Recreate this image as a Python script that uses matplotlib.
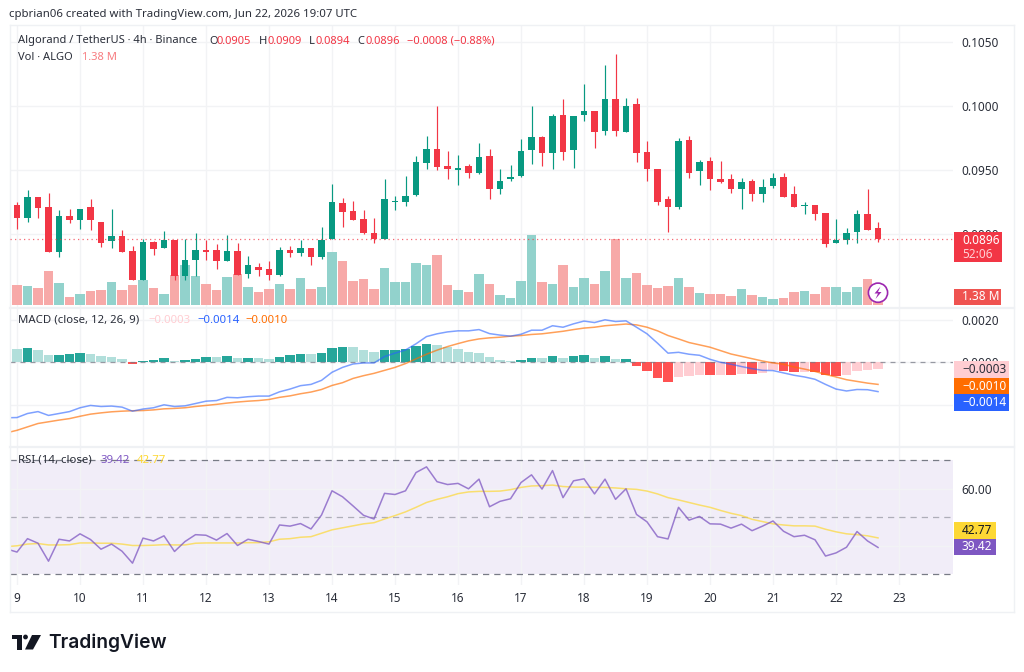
import numpy as np
import matplotlib
matplotlib.use('Agg')
import matplotlib.pyplot as plt
from matplotlib.patches import Rectangle, Circle, Polygon
from matplotlib.lines import Line2D

W, H = 1024, 672
FONT = ['Noto Sans', 'DejaVu Sans']
plt.rcParams['font.family'] = FONT

# 4h candles, prices in 1e-5 USDT
opens = [9227, 9122, 9286, 9208, 8862, 9141, 9107, 9208, 9096, 8948, 8987, 8865, 8638, 8935, 8893, 8951, 8669,
         8794, 8872, 8872, 8792, 8865, 8685, 8742, 8727, 8682, 8872, 8854, 8888, 8823, 8958, 9240, 9177, 9117,
         9010, 8958, 9253, 9253, 9302, 9557, 9661, 9531, 9497, 9531, 9474, 9607, 9352, 9427, 9450, 9656, 9760,
         9635, 9930, 9659, 9927, 9958, 9805, 10052, 9797, 10013, 9638, 9510, 9271, 9214, 9732, 9495, 9570,
         9432, 9432, 9352, 9417, 9312, 9375, 9448, 9310, 9216, 9227, 9164, 8932, 8953, 9016, 9156, 9050]
highs = [9253, 9341, 9286, 9318, 9185, 9195, 9195, 9271, 9096, 9195, 9034, 8904, 8964, 8948, 9026, 8951, 8964,
         9010, 8953, 8919, 8995, 8927, 8826, 8771, 8786, 8896, 8904, 8953, 8888, 9057, 9388, 9279, 9255, 9185,
         9125, 9432, 9294, 9456, 9607, 9768, 10000, 9646, 9615, 9544, 9708, 9661, 9508, 9539, 9740, 9997, 9768,
         9935, 10052, 9922, 10169, 9958, 10315, 10406, 10060, 10060, 9724, 9510, 9297, 9747, 9763, 9578, 9602,
         9570, 9471, 9440, 9432, 9432, 9479, 9479, 9372, 9250, 9227, 9164, 9117, 9049, 9187, 9349, 9090]
lows = [9036, 9096, 9122, 8862, 8823, 9083, 9036, 9029, 8898, 8893, 8862, 8638, 8638, 8839, 8893, 8638, 8638,
        8669, 8799, 8729, 8792, 8682, 8659, 8669, 8638, 8674, 8823, 8831, 8760, 8807, 8958, 9057, 9107, 9000,
        8932, 8958, 9190, 9219, 9297, 9510, 9503, 9432, 9380, 9440, 9471, 9273, 9312, 9417, 9448, 9549, 9534,
        9510, 9581, 9518, 9878, 9667, 9771, 9763, 9794, 9565, 9411, 9229, 9013, 9195, 9440, 9380, 9341,
        9401, 9320, 9198, 9258, 9250, 9359, 9292, 9214, 9156, 9109, 8898, 8930, 8922, 8930, 9029, 8940]
closes = [9122, 9286, 9206, 8862, 9141, 9107, 9195, 9107, 8932, 8987, 8862, 8638, 8935, 8885, 8951, 8669, 8794,
          8872, 8862, 8792, 8865, 8682, 8755, 8721, 8682, 8872, 8854, 8888, 8823, 8956, 9247, 9174, 9107, 9005,
          8958, 9271, 9258, 9294, 9560, 9661, 9526, 9505, 9513, 9474, 9599, 9352, 9417, 9448, 9646, 9760, 9635,
          9922, 9643, 9922, 9958, 9797, 10052, 9805, 9997, 9635, 9510, 9250, 9214, 9724, 9479, 9562, 9427,
          9409, 9352, 9409, 9312, 9370, 9437, 9292, 9214, 9227, 9159, 8924, 8956, 9010, 9156, 9029, 8960]

# volume in millions of ALGO
volumes = [3.39, 3.22, 2.88, 5.92, 3.74, 1.38, 1.84, 2.36, 2.53, 3.91, 2.53, 3.39, 4.26, 2.88, 1.84, 5.12, 6.84,
           4.95, 3.57, 2.53, 4.77, 5.29, 3.05, 2.19, 2.70, 3.57, 2.70, 4.60, 2.70, 3.05, 9.14, 7.59, 4.08, 4.43,
           2.70, 6.44, 3.91, 3.91, 7.25, 6.90, 8.63, 3.39, 2.53, 2.19, 5.41, 3.57, 1.67, 1.21, 4.08, 12.02, 3.91,
           3.57, 6.90, 3.05, 4.60, 3.57, 5.92, 11.33, 4.60, 5.58, 3.39, 2.88, 3.22, 4.72, 3.05, 2.01, 1.84,
           1.84, 1.55, 2.70, 1.67, 1.38, 1.04, 1.21, 2.19, 2.36, 1.84, 3.05, 3.05, 2.19, 3.05, 4.43, 1.38]

# MACD series in 1e-5, first value is the bar before the visible range
macd_hist = [68, 63, 65, 58, 35, 36, 38, 44, 39, 30, 25, 16, -8, 8, 11, 22, 6, 11, 16, 25, 24, 30, 20, 22, 20, 16,
             25, 35, 39, 38, 44, 68, 72, 71, 58, 49, 57, 58, 63, 77, 87, 82, 72, 63, 49, 44, 25, 11, 6, 11, 20, 19,
             30, 20, 30, 35, 20, 30, 16, 17, -17, -41, -72, -91, -68, -65, -58, -60, -58, -60, -54, -55, -49, -38,
             -39, -46, -44, -46, -58, -63, -58, -39, -36, -30]
macd_line = [-261, -260, -241, -232, -250, -241, -232, -214, -203, -208, -206, -211, -230, -220, -214, -200, -208,
             -205, -194, -183, -180, -165, -167, -162, -159, -159, -139, -126, -110, -104, -85, -47, -24, -8, -3,
             -3, 27, 43, 58, 87, 121, 134, 143, 148, 148, 154, 135, 128, 123, 132, 151, 151, 172, 165, 181, 194,
             187, 200, 192, 195, 165, 134, 90, 43, 47, 38, 33, 14, 0, -9, -20, -30, -38, -39, -50, -61, -69, -80,
             -104, -126, -135, -128, -129, -138]
signal_line = [-332, -320, -304, -288, -280, -272, -265, -254, -244, -238, -233, -230, -228, -227, -224, -219, -217,
               -214, -208, -203, -198, -192, -187, -183, -180, -175, -165, -158, -148, -140, -128, -109, -96, -76,
               -63, -52, -38, -24, -6, 16, 38, 57, 74, 88, 101, 110, 115, 118, 123, 126, 131, 134, 140, 146, 154,
               161, 165, 172, 176, 180, 176, 165, 148, 126, 110, 93, 82, 71, 55, 39, 28, 17, 6, -3, -9, -22, -32,
               -43, -57, -69, -82, -90, -98, -104]

rsi_line = [38.9, 37.8, 42.5, 40.9, 34.6, 42.3, 41.7, 44.2, 42.2, 38.8, 40.6, 38.1, 33.9, 42.7, 41.7, 43.5, 38.0,
            41.5, 43.9, 43.7, 42.0, 44.3, 40.1, 42.3, 41.5, 40.6, 47.3, 46.9, 47.8, 45.9, 50.8, 59.3, 57.2, 54.0,
            50.7, 49.4, 58.4, 58.0, 59.3, 65.7, 67.7, 62.5, 61.5, 61.9, 60.0, 63.4, 53.7, 55.6, 56.5, 62.2, 64.9,
            59.9, 66.4, 56.9, 62.8, 63.5, 58.2, 63.4, 56.3, 60.0, 51.0, 48.4, 43.2, 42.4, 53.5, 49.0, 50.3, 47.7,
            47.6, 46.2, 47.6, 45.3, 46.9, 48.7, 45.1, 43.2, 43.7, 42.1, 36.4, 37.5, 39.5, 45.0, 41.7, 39.42]
rsi_ma = [39.7, 40.0, 40.6, 40.8, 40.3, 40.3, 40.4, 41.0, 41.0, 40.9, 40.9, 40.6, 40.1, 40.1, 40.2, 40.4, 40.3,
          40.3, 40.9, 41.0, 41.0, 41.0, 41.0, 41.1, 41.1, 41.4, 42.3, 42.5, 43.0, 43.2, 44.4, 45.6, 46.3, 47.0,
          47.7, 48.1, 49.4, 50.6, 51.9, 53.5, 55.2, 56.3, 57.2, 58.3, 58.9, 59.1, 59.1, 59.2, 59.7, 60.5, 61.0,
          61.1, 61.3, 60.8, 60.6, 60.6, 60.5, 60.5, 60.3, 60.0, 59.8, 59.2, 58.2, 56.9, 56.1, 55.2, 54.3, 53.5,
          52.4, 51.4, 50.6, 49.3, 48.5, 47.7, 47.3, 47.0, 47.0, 46.9, 45.8, 44.9, 44.2, 43.9, 43.5, 42.77]

day_labels = ['9', '10', '11', '12', '13', '14', '15', '16', '17', '18', '19', '20', '21', '22', '23']
price_ticks = [0.0900, 0.0950, 0.1000, 0.1050]
macd_ticks = [-0.0020, 0.0000, 0.0020]
rsi_ticks = [40, 60]

RED, GREEN = '#f23645', '#089981'
VOL_RED, VOL_GREEN = '#f7a9a8', '#92d2cc'
TEXT = '#2a2e39'
GRID = '#f2f3f5'
BLUE, ORANGE, PURPLE, YELLOW = '#2962ff', '#ff6d00', '#7e57c2', '#fdd835'

opens, highs, lows, closes = [np.array(a) / 1e5 for a in (opens, highs, lows, closes)]
macd_hist, macd_line, signal_line = [np.array(a) / 1e5 for a in (macd_hist, macd_line, signal_line)]
bars = np.arange(len(opens))
ind_x = np.arange(-1, len(opens))
day_pos = np.arange(len(day_labels)) * 6


def pane(x0, y0, x1, y1, **kw):
    return fig.add_axes([x0 / W, 1 - y1 / H, (x1 - x0) / W, (y1 - y0) / H], **kw)


def px(x, y):
    return x / W, 1 - y / H


def fig_text(x, y, s, color=TEXT, size=8.2, **kw):
    kw.setdefault('va', 'center')
    return fig.text(*px(x, y), s, color=color, fontsize=size, zorder=12, **kw)


def badge(x0, y0, x1, y1, color, label, label_color='white'):
    fig.add_artist(Rectangle(px(x0, y1), (x1 - x0) / W, (y1 - y0) / H, transform=fig.transFigure,
                             facecolor=color, edgecolor='none', zorder=10))
    if label:
        fig_text(962, (y0 + y1) / 2, label, color=label_color, size=8.5)


def frame_line(x0, y0, x1, y1, lw=1.0):
    fig.add_artist(Line2D([x0 / W, x1 / W], [1 - y0 / H, 1 - y1 / H], transform=fig.transFigure,
                          color='#eff1f4', lw=lw, zorder=0.5))


fig = plt.figure(figsize=(W / 100, H / 100), dpi=100, facecolor='white')

# price pane: grid at the bottom, then volume, then candles
ax = pane(10, 25, 953, 307)
ax_vol = ax.twinx()
ax_top = pane(10, 25, 953, 307, sharex=ax, sharey=ax)
ax_macd = pane(10, 308, 953, 446, sharex=ax)
ax_rsi = pane(10, 447, 953, 585, sharex=ax)

ax_vol.set_zorder(2)
ax_top.set_zorder(3)
ax_vol.patch.set_visible(False)
ax_top.patch.set_visible(False)
ax_top.axis('off')

for a in (ax, ax_macd, ax_rsi):
    for s in a.spines.values():
        s.set_visible(False)
    a.yaxis.tick_right()
    a.tick_params(axis='y', length=0, pad=6, labelsize=8.5, labelcolor=TEXT)
    a.tick_params(axis='x', length=0, labelbottom=False)
    a.grid(True, color=GRID, lw=1)
    a.set_axisbelow(True)
    a.set_xticks(day_pos)
for s in ax_vol.spines.values():
    s.set_visible(False)
ax_vol.set_yticks([])

ax.set_xlim(-0.667, 89.14)
ax.set_ylim(0.084306, 0.106303)
ax.set_yticks(price_ticks)
ax.set_yticklabels(['%.4f' % t for t in price_ticks])
ax_vol.set_ylim(-0.345, 48.3)

is_up = closes >= opens
ax_vol.bar(bars, volumes, width=0.88, color=np.where(is_up, VOL_GREEN, VOL_RED))

candle_colors = np.where(is_up, GREEN, RED)
ax_top.vlines(bars, lows, highs, color=candle_colors, lw=0.85)
ax_top.bar(bars, np.maximum(np.abs(closes - opens), 0.00004), bottom=np.minimum(opens, closes),
           width=0.66, color=candle_colors)
ax_top.axhline(closes[-1], color=RED, lw=0.9, ls=(0, (1, 2.6)), alpha=0.75)

# MACD pane
ax_macd.set_ylim(-0.003939, 0.002555)
ax_macd.set_yticks(macd_ticks)
ax_macd.set_yticklabels(['', '%.4f' % macd_ticks[1], '%.4f' % macd_ticks[2]])
hist_colors = []
for prev, cur in zip(macd_hist[:-1], macd_hist[1:]):
    if cur >= 0:
        hist_colors.append('#26a69a' if cur > prev else '#b2dfdb')
    else:
        hist_colors.append('#ff5252' if cur < prev else '#ffcdd2')
ax_macd.bar(bars, macd_hist[1:], width=0.88, color=hist_colors, zorder=2)
ax_macd.axhline(0, color='#787b86', lw=0.9, ls=(0, (4, 4)), alpha=0.75, zorder=3)
ax_macd.plot(ind_x, signal_line, color=ORANGE, lw=1.1, alpha=0.65, zorder=4)
ax_macd.plot(ind_x, macd_line, color=BLUE, lw=1.1, alpha=0.6, zorder=5)

# RSI pane
ax_rsi.set_ylim(26.24, 74.67)
ax_rsi.set_yticks(rsi_ticks)
ax_rsi.set_yticklabels(['', '60.00'])
ax_rsi.axhspan(30, 70, color=PURPLE, alpha=0.1, lw=0, zorder=0.5)
ax_rsi.axhline(70, color='#787b86', lw=0.9, ls=(0, (5, 4)), zorder=1.5)
ax_rsi.axhline(30, color='#787b86', lw=0.9, ls=(0, (5, 4)), zorder=1.5)
ax_rsi.axhline(50, color='#787b86', lw=0.9, ls=(0, (5, 4)), alpha=0.55, zorder=1.5)
ax_rsi.plot(ind_x, rsi_ma, color=YELLOW, lw=1.1, alpha=0.7, zorder=3)
ax_rsi.plot(ind_x, rsi_line, color=PURPLE, lw=1.1, alpha=0.75, zorder=4)

# time scale
ax_rsi.tick_params(axis='x', labelbottom=True, pad=5, labelsize=8.5, labelcolor=TEXT)
ax_rsi.set_xticklabels(day_labels)

# chart frame and pane separators
frame_line(10, 25, 1014, 25)
frame_line(10, 25, 10, 612)
frame_line(1014, 25, 1014, 612)
frame_line(10, 612, 1014, 612)
frame_line(10, 307.5, 1014, 307.5, lw=1.6)
frame_line(10, 446.5, 1014, 446.5, lw=1.6)

# header and legends
fig_text(9, 14.5, 'cpbrian06 created with TradingView.com, Jun 22, 2026 19:07 UTC')
fig_text(18, 41, 'Algorand / TetherUS · 4h · Binance', size=8.0)
for x, s, c in [(209, 'O', TEXT), (216.5, '0.0905', RED), (259, 'H', TEXT), (267, '0.0909', RED),
                (309, 'L', TEXT), (315, '0.0894', RED), (357, 'C', TEXT), (365, '0.0896', RED),
                (407, '−0.0008 (−0.88%)', RED)]:
    fig_text(x, 41, s, color=c, size=8.0)
fig_text(18, 57.5, 'Vol · ALGO', size=8.0)
fig_text(82, 57.5, '1.38 M', color='#f77c80', size=8.0)
fig_text(18, 320.5, 'MACD (close, 12, 26, 9)', size=8.2)
fig_text(148, 320.5, '−0.0003', color='#ffcdd2')
fig_text(197, 320.5, '−0.0014', color=BLUE)
fig_text(245, 320.5, '−0.0010', color=ORANGE)
fig_text(18, 460.5, 'RSI (14, close)')
fig_text(100, 460.5, '39.42', color=PURPLE)
fig_text(137, 460.5, '42.77', color=YELLOW)

# price scale labels
badge(954, 232, 1002, 262, RED, '')
fig_text(962, 240, '0.0896', color='white', size=8.5)
fig_text(962, 254, '52:06', color='#ffd0d4', size=8.5)
badge(954, 289, 1001, 305, '#ef5350', '1.38 M')
badge(954, 361, 1009, 378, '#ffcdd2', '−0.0003', TEXT)
badge(954, 378, 1009, 394, ORANGE, '−0.0010')
badge(954, 394, 1009, 411, BLUE, '−0.0014')
badge(954, 522, 996, 539, YELLOW, '42.77', '#131722')
badge(954, 539, 996, 555, PURPLE, '39.42')

# lightning badge on the last bar
fig.add_artist(Circle((878, H - 292.7), 9.6, transform=None, facecolor='white',
                      edgecolor='#9c27b0', lw=1.2, zorder=10))
bolt = [(880.5, 286.5), (874.5, 293.5), (878, 293.5), (875.5, 299), (881.5, 292), (878, 292)]
fig.add_artist(Polygon([px(x, y) for x, y in bolt], transform=fig.transFigure, facecolor='#9c27b0',
                       edgecolor='none', zorder=11))

# TradingView logo
for shape in ([(12, 635), (22.3, 635), (22.3, 649.5), (16.7, 649.5), (16.7, 639), (12, 639)],
              [(32, 635), (41, 635), (33, 649.5), (25, 649.5)]):
    fig.add_artist(Polygon([px(x, y) for x, y in shape], transform=fig.transFigure, facecolor='#131722',
                           edgecolor='none', zorder=11))
fig.add_artist(Circle((25.5, H - 637), 2.4, transform=None, facecolor='#131722', edgecolor='none', zorder=11))
fig_text(48, 642.5, 'TradingView', color='#131722', size=13.8, family=['Inter', 'DejaVu Sans'], weight='semibold')

fig.savefig('out.png', dpi=100, facecolor='white')
